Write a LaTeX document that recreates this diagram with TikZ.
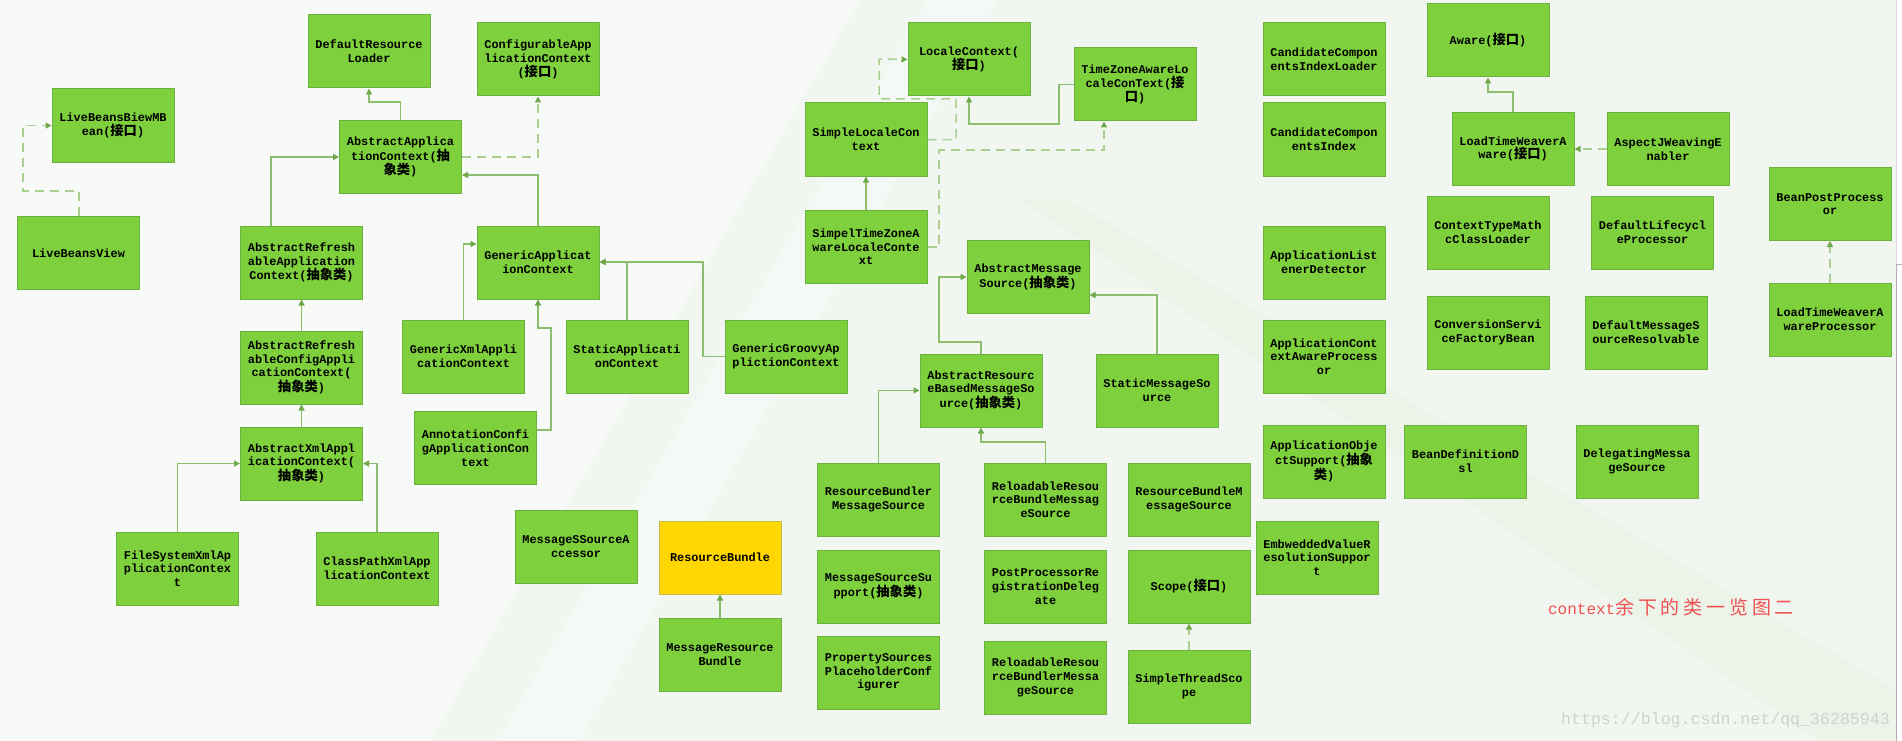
\documentclass[tikz,border=0pt]{standalone}
\usepackage{fontspec}
\usetikzlibrary{arrows.meta}
\newfontfamily\boxfont{Liberation Mono}
\newfontfamily\cjk{Noto Sans CJK SC}
\newfontfamily\cjkt{Noto Sans CJK SC}[LetterSpace=20]
\newfontfamily\latt{Liberation Mono}
\newcommand\zh[1]{{\cjk\fontsize{13.3}{13.7}\selectfont #1}}
\definecolor{boxfill}{RGB}{126,209,60}
\definecolor{boxline}{RGB}{108,178,64}
\definecolor{yfill}{RGB}{255,214,0}
\definecolor{yline}{RGB}{196,190,70}
\definecolor{connc}{RGB}{138,190,108}
\definecolor{conndark}{RGB}{110,168,72}
\definecolor{dashc}{RGB}{170,208,145}
\definecolor{bgA}{RGB}{248,250,248}
\definecolor{bgB}{RGB}{241,247,240}
\definecolor{bgC}{RGB}{236,244,234}
\definecolor{redtext}{RGB}{240,80,80}
\definecolor{wmark}{RGB}{206,211,206}
\begin{document}
\begin{tikzpicture}[x=1pt,y=-1pt,
  box/.style={draw=boxline, fill=boxfill, line width=1pt, minimum width=122pt,
    minimum height=73pt, inner sep=0pt, align=center, text=black,
    font=\boxfont\bfseries\fontsize{11.9}{13.7}\selectfont},
  ybox/.style={box, fill=yfill, draw=yline},
  sline/.style={draw=connc, line width=1.3pt, -{Triangle[length=6pt,width=6pt,color=conndark]}},
  dline/.style={draw=dashc, line width=1.5pt, dash pattern=on 9pt off 6pt,
    -{Triangle[length=6pt,width=6pt,color=conndark]}}]
\useasboundingbox (0,0) rectangle (1902,741);
% background
\fill[bgA] (0,0) rectangle (1902,741);
\fill[bgB] (860,0) -- (1896,0) -- (1896,741) -- (430,741) -- cycle;
\fill[bgA!60!bgB] (928,0) -- (997,0) -- (580,741) -- (497,741) -- cycle;
\fill[bgC] (1020,200) -- (1070,200) -- (1896,690) -- (1896,741) -- (1820,741) -- cycle;
\fill[white] (1896,0) rectangle (1902,741);
\draw[gray!30, line width=1pt] (1896,0) -- (1896,264);
\draw[gray!60, line width=1pt] (1902,264) -- (1896,264) -- (1896,741);

% boxes
\node[box] (drl) at (369,51.5) {DefaultResource\\Loader};
\node[box] (lbb) at (113,125.5) {LiveBeansBiewMB\\ean(\zh{接口})};
\node[box] (aac) at (400.5,157) {AbstractApplica\\tionContext(\zh{抽}\\\zh{象类})};
\node[box] (cac) at (538,59.5) {ConfigurableApp\\licationContext\\(\zh{接口})};
\node[box] (lbv) at (78.5,253) {LiveBeansView};
\node[box] (arac) at (301.5,262.5) {AbstractRefresh\\ableApplication\\Context(\zh{抽象类})};
\node[box] (arcac) at (301.5,367.5) {AbstractRefresh\\ableConfigAppli\\cationContext(\\\zh{抽象类})};
\node[box] (axac) at (301.5,463.5) {AbstractXmlAppl\\icationContext(\\\zh{抽象类})};
\node[box] (fsx) at (177.5,568.5) {FileSystemXmlAp\\plicationContex\\t};
\node[box] (cpx) at (377,568.5) {ClassPathXmlApp\\licationContext};
\node[box] (gac) at (538,262.5) {GenericApplicat\\ionContext};
\node[box] (gxac) at (463.5,356.5) {GenericXmlAppli\\cationContext};
\node[box] (sac) at (627,356.5) {StaticApplicati\\onContext};
\node[box] (ggac) at (786,356.5) {GenericGroovyAp\\plictionContext};
\node[box] (acac) at (475.5,448) {AnnotationConfi\\gApplicationCon\\text};
\node[box] (msa) at (576,546.5) {MessageSSourceA\\ccessor};
\node[ybox] (rb) at (720,557.5) {ResourceBundle};
\node[box] (mrb) at (720,654.5) {MessageResource\\Bundle};
\node[box] (lc) at (969,59.5) {LocaleContext(\\\zh{接口})};
\node[box] (slc) at (866,139.5) {SimpleLocaleCon\\text};
\node[box] (stz) at (866,247) {SimpelTimeZoneA\\wareLocaleConte\\xt};
\node[box] (tz) at (1135,84.5) {TimeZoneAwareLo\\caleConText(\zh{接}\\\zh{口})};
\node[box] (ams) at (1028,277) {AbstractMessage\\Source(\zh{抽象类})};
\node[box] (arbms) at (981,390.5) {AbstractResourc\\eBasedMessageSo\\urce(\zh{抽象类})};
\node[box] (sms) at (1157,390.5) {StaticMessageSo\\urce};
\node[box] (rbr) at (878.5,499.5) {ResourceBundler\\MessageSource};
\node[box] (mss) at (878.5,586.5) {MessageSourceSu\\pport(\zh{抽象类})};
\node[box] (pspc) at (878.5,672.5) {PropertySources\\PlaceholderConf\\igurer};
\node[box] (rrb) at (1045.5,499.5) {ReloadableResou\\rceBundleMessag\\eSource};
\node[box] (rbms) at (1189,499.5) {ResourceBundleM\\essageSource};
\node[box] (pprd) at (1045.5,586.5) {PostProcessorRe\\gistrationDeleg\\ate};
\node[box] (rrbr) at (1045.5,677.5) {ReloadableResou\\rceBundlerMessa\\geSource};
\node[box] (scope) at (1189,586.5) {Scope(\zh{接口})};
\node[box] (sts) at (1189,686.5) {SimpleThreadSco\\pe};
\node[box] (cil) at (1324,59.5) {CandidateCompon\\entsIndexLoader};
\node[box] (ci) at (1324,139.5) {CandidateCompon\\entsIndex};
\node[box] (ald) at (1324,262.5) {ApplicationList\\enerDetector};
\node[box] (acap) at (1324,356.5) {ApplicationCont\\extAwareProcess\\or};
\node[box] (aos) at (1324,461.5) {ApplicationObje\\ctSupport(\zh{抽象}\\\zh{类})};
\node[box] (evrs) at (1317,557.5) {EmbweddedValueR\\esolutionSuppor\\t};
\node[box] (bdd) at (1465.5,461.5) {BeanDefinitionD\\sl};
\node[box] (aware) at (1488,40.5) {Aware(\zh{接口})};
\node[box] (ltwa) at (1513,149) {LoadTimeWeaverA\\ware(\zh{接口})};
\node[box] (aj) at (1668,149) {AspectJWeavingE\\nabler};
\node[box] (ctm) at (1488,232.5) {ContextTypeMath\\cClassLoader};
\node[box] (dlp) at (1652.5,232.5) {DefaultLifecycl\\eProcessor};
\node[box] (csfb) at (1488,332.5) {ConversionServi\\ceFactoryBean};
\node[box] (dmsr) at (1646,332.5) {DefaultMessageS\\ourceResolvable};
\node[box] (dms) at (1637,461.5) {DelegatingMessa\\geSource};
\node[box] (bpp) at (1830,204) {BeanPostProcess\\or};
\node[box] (ltwap) at (1830,319.5) {LoadTimeWeaverA\\wareProcessor};

% texts
\node[text=redtext, inner sep=0pt] (title) at (1671,607)
  {{\latt\fontsize{16}{18}\selectfont context}{\cjkt\fontsize{19}{20}\selectfont 余下的类一览图二}};
\node[text=wmark, inner sep=0pt, font=\latt\fontsize{16.6}{18}\selectfont] (wm) at (1725.5,720)
  {https://blog.csdn.net/qq\_36285943};

% connectors
\draw[dline] (lbv.north -| 79,0) |- (23,191) |- (lbb.west);
\draw[sline] (aac.north) |- (drl.south |- 0,102) -- (drl.south);
\draw[sline] (arac.north -| 271,0) |- (aac.west);
\draw[dline] (aac.east) -| (cac.south);
\draw[sline] (gac.north) |- (aac.east |- 0,175);
\draw[sline] (arcac.north) -- (arac.south);
\draw[sline] (axac.north) -- (arcac.south);
\draw[sline] (fsx.north) |- (axac.west);
\draw[sline] (cpx.north) |- (axac.east);
\draw[sline] (gxac.north) |- (gac.west |- 0,244);
\draw[sline] (acac.east |- 0,430) -| (551,328) -| (gac.south);
\draw[sline] (sac.north) |- (gac.east |- 0,262);
\draw[sline] (ggac.west) -| (703,262) -- (gac.east |- 0,262);
\draw[sline] (mrb.north) -- (rb.south);
\draw[sline] (stz.north) -- (slc.south);
\draw[dline] (slc.east) -| (956,99) -| (879,59) -- (lc.west);
\draw[dline] (stz.east) -| (939,150) -| (tz.south -| 1104,0);
\draw[sline] (tz.west) -| (1059,124) -| (lc.south);
\draw[sline] (arbms.north) |- (939,342) |- (ams.west);
\draw[sline] (sms.north) |- (ams.east |- 0,295);
\draw[sline] (rbr.north) |- (arbms.west);
\draw[sline] (rrb.north) |- (arbms.south |- 0,442) -- (arbms.south);
\draw[dline] (sts.north) -- (scope.south);
\draw[sline] (ltwa.north) |- (aware.south |- 0,92) -- (aware.south);
\draw[dline] (aj.west) -- (ltwa.east);
\draw[dline] (ltwap.north) -- (bpp.south);
\end{tikzpicture}
\end{document}
